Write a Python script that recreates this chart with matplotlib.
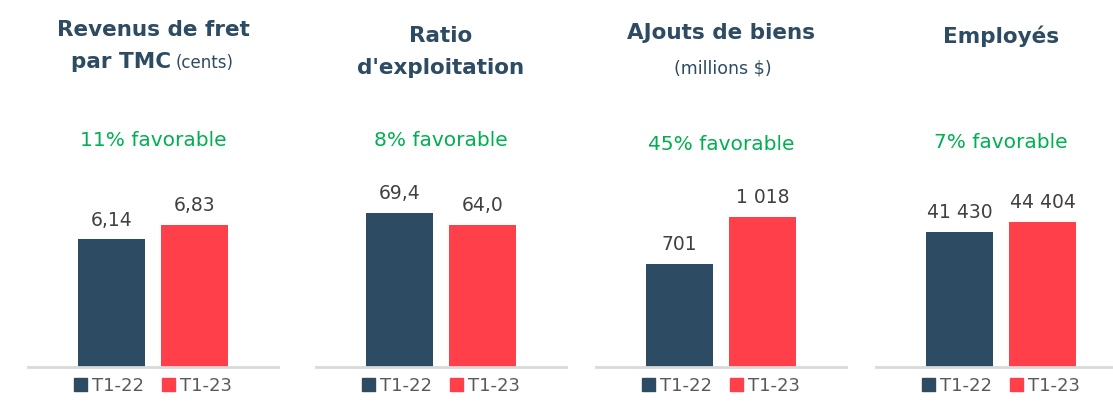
import matplotlib.pyplot as plt
from matplotlib.patches import Patch

periods = ["T1-22", "T1-23"]
rev_fret = [6.14, 6.83]
ratio_expl = [69.4, 64.0]
ajouts = [701, 1018]
employes = [41430, 44404]
labels_rev = ["6,14", "6,83"]
labels_ratio = ["69,4", "64,0"]
labels_ajouts = ["701", "1 018"]
labels_empl = ["41 430", "44 404"]
favorable = ["11% favorable", "8% favorable", "45% favorable", "7% favorable"]

dark = "#2D4B62"
red = "#FF3F4A"
green = "#00B050"
title_col = "#2D4B62"
txt_col = "#404040"
plt.rcParams['font.family'] = ['DejaVu Sans']

W, H = 1113, 416
fig = plt.figure(figsize=(W / 100, H / 100), dpi=100)

panels = [
    (rev_fret, labels_rev, 9.0, 28),
    (ratio_expl, labels_ratio, 84.0, 316),
    (ajouts, labels_ajouts, 1268, 596),
    (employes, labels_empl, 57300, 876),
]

base_y, top_y = 367, 180
axes = []
for vals, labs, ymax, left in panels:
    ax = fig.add_axes([left / W, 1 - base_y / H, 250 / W, (base_y - top_y) / H])
    bars = ax.bar([0, 1], vals, width=0.807, color=[dark, red])
    ax.bar_label(bars, labels=labs, padding=7, fontsize=13.5, color=txt_col)
    ax.set_xlim(-1.006, 2.006)
    ax.set_ylim(0, ymax)
    for s in ["top", "right", "left"]:
        ax.spines[s].set_visible(False)
    ax.spines["bottom"].set_color("#D9D9D9")
    ax.spines["bottom"].set_linewidth(2)
    ax.set_xticks([])
    ax.set_yticks([])
    ax.patch.set_alpha(0)
    handles = [Patch(color=dark, label=periods[0]), Patch(color=red, label=periods[1])]
    ax.legend(handles=handles, loc="upper center", bbox_to_anchor=(0.5, 0.035), ncol=2,
              frameon=False, fontsize=13, handlelength=0.7, handleheight=0.7,
              handletextpad=0.3, columnspacing=1.0, labelcolor="#595959")
    axes.append(ax)

def fx(px):
    return px / W

def fy(py):
    return 1 - py / H

tkw = dict(color=title_col, fontweight="bold", fontsize=15.5, ha="center", va="center")
# panel 1
fig.text(fx(153), fy(30), "Revenus de fret", **tkw)
fig.text(fx(171), fy(62), "par TMC", color=title_col, fontweight="bold", fontsize=15.5, ha="right", va="center")
fig.text(fx(176), fy(63), "(cents)", color=title_col, fontsize=12, ha="left", va="center")
# panel 2
fig.text(fx(441), fy(36), "Ratio", **tkw)
fig.text(fx(441), fy(68), "d'exploitation", **tkw)
# panel 3
fig.text(fx(721), fy(33), "AJouts de biens", **tkw)
fig.text(fx(723), fy(68), "(millions $)", color=title_col, fontsize=12.5, ha="center", va="center")
# panel 4
fig.text(fx(1001), fy(36), "Employés", **tkw)

fav_y = [140, 140, 145, 143]
fav_x = [153, 441, 721, 1001]
for x, y, t in zip(fav_x, fav_y, favorable):
    fig.text(fx(x), fy(y), t, color=green, fontsize=14.5, ha="center", va="center")

fig.savefig("out.png", dpi=100)
